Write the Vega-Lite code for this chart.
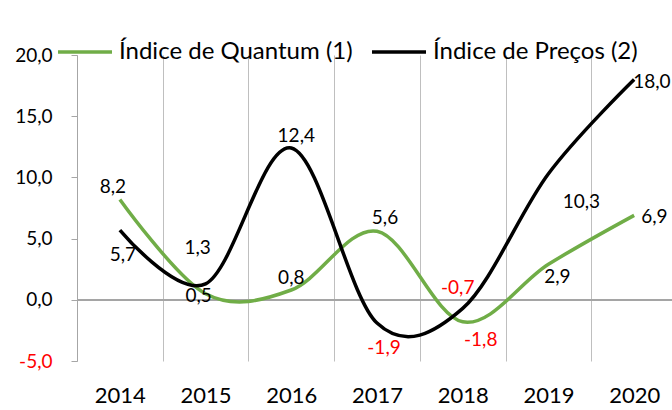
{
  "$schema": "https://vega.github.io/schema/vega-lite/v6.json",
  "width": 595,
  "height": 306,
  "autosize": {"type": "none"},
  "padding": {"left": 77, "top": 55, "right": 0, "bottom": 49},
  "background": "white",
  "config": {
    "font": "Lato",
    "locale": {"number": {"decimal": ",", "thousands": ".", "grouping": [3], "currency": ["", ""], "minus": "-"}},
    "view": {"stroke": null}
  },
  "data": {
    "values": [
      {"year": "2014", "series": "Índice de Quantum (1)", "value": 8.2},
      {"year": "2015", "series": "Índice de Quantum (1)", "value": 0.5},
      {"year": "2016", "series": "Índice de Quantum (1)", "value": 0.8},
      {"year": "2017", "series": "Índice de Quantum (1)", "value": 5.6},
      {"year": "2018", "series": "Índice de Quantum (1)", "value": -1.8},
      {"year": "2019", "series": "Índice de Quantum (1)", "value": 2.9},
      {"year": "2020", "series": "Índice de Quantum (1)", "value": 6.9},
      {"year": "2014", "series": "Índice de Preços (2)", "value": 5.7},
      {"year": "2015", "series": "Índice de Preços (2)", "value": 1.3},
      {"year": "2016", "series": "Índice de Preços (2)", "value": 12.4},
      {"year": "2017", "series": "Índice de Preços (2)", "value": -1.9},
      {"year": "2018", "series": "Índice de Preços (2)", "value": -0.7},
      {"year": "2019", "series": "Índice de Preços (2)", "value": 10.3},
      {"year": "2020", "series": "Índice de Preços (2)", "value": 18.0}
    ]
  },
  "layer": [
    {
      "mark": {"type": "rule", "color": "#A6A6A6", "strokeWidth": 1},
      "encoding": {"y": {"datum": 0, "type": "quantitative"}}
    },
    {
      "mark": {"type": "line", "interpolate": "cardinal", "strokeWidth": 3.5},
      "encoding": {
        "x": {
          "field": "year", "type": "ordinal", "bandPosition": 0.5,
          "scale": {"type": "band", "paddingInner": 0, "paddingOuter": 0, "range": [0, 600]},
          "axis": {
            "title": null, "domain": false, "ticks": false, "tickBand": "extent",
            "grid": true, "gridColor": "#BFBFBF", "gridWidth": 1,
            "labelFontSize": 22, "labelColor": "#000000", "labelPadding": 24, "labelAngle": 0
          }
        },
        "y": {
          "field": "value", "type": "quantitative",
          "scale": {"domain": [-5, 20], "nice": false, "zero": false},
          "axis": {
            "title": null, "values": [-5, 0, 5, 10, 15, 20], "format": ".1f",
            "grid": false, "domain": true, "domainColor": "#A6A6A6", "ticks": true, "tickColor": "#A6A6A6", "tickSize": 6,
            "labelFontSize": 19, "labelPadding": 19,
            "labelColor": {"condition": {"test": "datum.value < 0", "value": "#FF0000"}, "value": "#000000"}
          }
        },
        "color": {
          "field": "series", "type": "nominal",
          "scale": {"domain": ["Índice de Quantum (1)", "Índice de Preços (2)"], "range": ["#70AD47", "#000000"]},
          "legend": {
            "title": null, "orient": "none", "direction": "horizontal", "legendX": -21, "legendY": -32,
            "symbolType": "stroke", "symbolSize": 2916, "symbolStrokeWidth": 3.5,
            "labelFontSize": 24, "labelColor": "#000000", "labelLimit": 400, "labelOffset": 5,
            "columnPadding": 12, "padding": 0
          }
        }
      }
    },
    {
      "transform": [{"filter": "datum.series == 'Índice de Quantum (1)'"}],
      "mark": {
        "type": "text", "fontSize": 19, "baseline": "middle",
        "align": {"expr": "datum.year == '2020' ? 'left' : 'center'"},
        "dx": {"expr": "datum.year == '2014' ? -7 : datum.year == '2015' ? -7 : datum.year == '2016' ? 0 : datum.year == '2017' ? 8 : datum.year == '2018' ? 18 : datum.year == '2019' ? 9 : 7"},
        "dy": {"expr": "datum.year == '2014' ? -12 : datum.year == '2015' ? 2 : datum.year == '2016' ? -12 : datum.year == '2017' ? -13 : datum.year == '2018' ? 18 : datum.year == '2019' ? 13 : 2"}
      },
      "encoding": {
        "x": {"field": "year", "type": "ordinal", "bandPosition": 0.5},
        "y": {"field": "value", "type": "quantitative"},
        "text": {"field": "value", "type": "quantitative", "format": ".1f"},
        "color": {"condition": {"test": "datum.value < 0", "value": "#FF0000"}, "value": "#000000"}
      }
    },
    {
      "transform": [{"filter": "datum.series == 'Índice de Preços (2)'"}],
      "mark": {
        "type": "text", "fontSize": 19, "baseline": "middle",
        "align": {"expr": "datum.year == '2020' ? 'left' : 'center'"},
        "dx": {"expr": "datum.year == '2014' ? 3 : datum.year == '2015' ? -8 : datum.year == '2016' ? 5 : datum.year == '2017' ? 7 : datum.year == '2018' ? -5 : datum.year == '2019' ? 33 : -1"},
        "dy": {"expr": "datum.year == '2014' ? 25 : datum.year == '2015' ? -36 : datum.year == '2016' ? -12 : datum.year == '2017' ? 25 : datum.year == '2018' ? -20 : datum.year == '2019' ? 28 : 3"}
      },
      "encoding": {
        "x": {"field": "year", "type": "ordinal", "bandPosition": 0.5},
        "y": {"field": "value", "type": "quantitative"},
        "text": {"field": "value", "type": "quantitative", "format": ".1f"},
        "color": {"condition": {"test": "datum.value < 0", "value": "#FF0000"}, "value": "#000000"}
      }
    }
  ]
}
